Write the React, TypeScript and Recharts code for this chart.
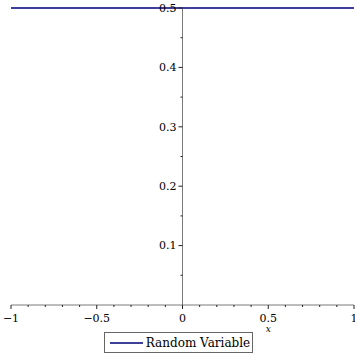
import React from 'react';
import { ComposedChart, Line, XAxis, YAxis, Scatter, ReferenceLine, Legend } from 'recharts';

const seriesName = 'Random Variable';
const lineX = [-1, 1];
const lineY = [0.5, 0.5];
const xMajorTicks = [-1, -0.5, 0, 0.5, 1];
const xMajorLabels = ['\u22121', '\u22120.5', '0', '0.5', '1'];
const xMinorTicks = [-0.9, -0.8, -0.7, -0.6, -0.4, -0.3, -0.2, -0.1, 0.1, 0.2, 0.3, 0.4, 0.6, 0.7, 0.8, 0.9];
const yMajorTicks = [0.1, 0.2, 0.3, 0.4, 0.5];
const yMajorLabels = ['0.1', '0.2', '0.3', '0.4', '0.5'];
const yMinorTicks = [0.05, 0.15, 0.25, 0.35, 0.45];
const axisTitle = 'x';

const lineData = lineX.map((x, i) => ({ x, y: lineY[i] }));
const allXTicks = [...xMajorTicks, ...xMinorTicks].sort((a, b) => a - b);
const yTickData = [
  ...yMajorTicks.map((y, i) => ({ x: 0, y, label: yMajorLabels[i], major: true })),
  ...yMinorTicks.map((y) => ({ x: 0, y, label: '', major: false })),
];

const FONT = '"DejaVu Serif", serif';
const LINE_COLOR = '#3d3f98';
const AXIS_COLOR = '#7a7a7a';
const TICK_COLOR = '#222';

const XTick = (props: any) => {
  const { x, y, payload } = props;
  const idx = xMajorTicks.findIndex((v) => Math.abs(v - payload.value) < 1e-9);
  const major = idx >= 0;
  return (
    <g>
      <line x1={x} y1={y} x2={x} y2={y + (major ? 4 : 2)} stroke={TICK_COLOR} strokeWidth={1} />
      {major && (
        <text x={x} y={y + 17} textAnchor="middle" fontSize={11} fontFamily={FONT} fill="#000">
          {xMajorLabels[idx]}
        </text>
      )}
    </g>
  );
};

const YTickShape = (props: any) => {
  const { cx, cy, payload } = props;
  const major = payload && payload.major;
  return (
    <g>
      <line x1={cx - (major ? 4 : 2)} y1={cy} x2={cx} y2={cy} stroke={TICK_COLOR} strokeWidth={1} />
      {major && (
        <text x={cx - 6} y={cy} dy="0.35em" textAnchor="end" fontSize={11} fontFamily={FONT} fill="#000">
          {payload.label}
        </text>
      )}
    </g>
  );
};

const LegendBox = () => (
  <div style={{ display: 'flex', justifyContent: 'center', width: 355 }}>
    <div
      style={{
        display: 'inline-flex',
        alignItems: 'center',
        border: '1.5px solid #666',
        height: 19,
        padding: '0 2px 0 5px',
        marginLeft: 2,
        fontFamily: FONT,
        fontSize: 12,
        color: '#000',
        boxSizing: 'content-box',
      }}
    >
      <span style={{ display: 'inline-block', width: 33, height: 2, background: LINE_COLOR, marginRight: 3 }} />
      <span>{seriesName}</span>
    </div>
  </div>
);

export default function App() {
  return (
    <div style={{ position: 'absolute', left: 0, top: 0, width: 355, height: 355, background: '#fff' }}>
      <ComposedChart width={355} height={355} margin={{ top: 8, right: 1, left: 11, bottom: 2 }}>
        <XAxis
          type="number"
          dataKey="x"
          domain={[-1, 1]}
          ticks={allXTicks}
          interval={0}
          tickLine={false}
          tickSize={0}
          tickMargin={0}
          tick={<XTick />}
          axisLine={{ stroke: AXIS_COLOR, strokeWidth: 1 }}
          height={27}
          label={(p: any) => {
            const vb = p.viewBox || {};
            return (
              <text
                x={vb.x + vb.width * 0.75}
                y={329}
                dy="0.35em"
                textAnchor="middle"
                fontSize={9}
                fontStyle="italic"
                fontFamily={FONT}
                fill="#000"
              >
                {axisTitle}
              </text>
            );
          }}
        />
        <YAxis type="number" domain={[0, 0.5]} hide />
        <ReferenceLine x={0} stroke={AXIS_COLOR} strokeWidth={1} />
        <Scatter data={yTickData} dataKey="y" isAnimationActive={false} shape={<YTickShape />} legendType="none" />
        <Line
          data={lineData}
          dataKey="y"
          name={seriesName}
          stroke={LINE_COLOR}
          strokeWidth={2}
          dot={false}
          activeDot={false}
          isAnimationActive={false}
        />
        <Legend verticalAlign="bottom" align="center" wrapperStyle={{ left: 0, width: 355 }} content={() => <LegendBox />} />
      </ComposedChart>
    </div>
  );
}
